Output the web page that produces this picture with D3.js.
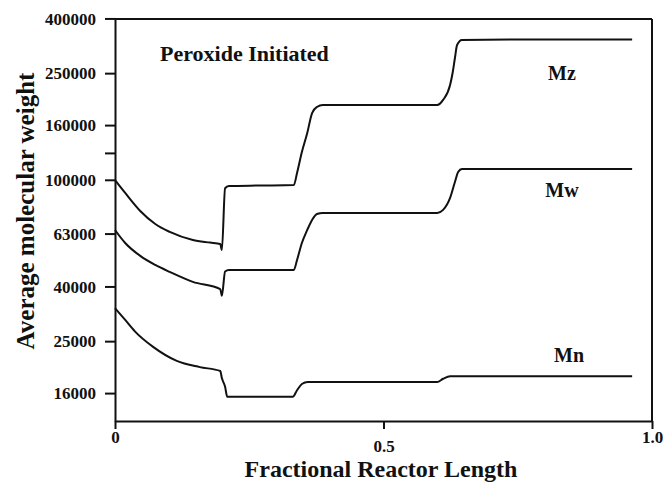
<!DOCTYPE html>
<html>
<head>
<meta charset="utf-8">
<script src="https://cdn.jsdelivr.net/npm/d3@7"></script>
<style>
  body { margin: 0; background: #fff; }
  text { font-family: "Liberation Serif", "Times New Roman", serif; font-weight: bold; fill: #111; }
</style>
</head>
<body>
<svg id="chart" width="663" height="482"></svg>
<script>
// values (fractional length, molecular weight)
var mzX = [0, 0.019, 0.047, 0.075, 0.102, 0.145, 0.177, 0.196, 0.199, 0.205, 0.212, 0.27, 0.333, 0.339, 0.348, 0.358, 0.367, 0.376, 0.387, 0.45, 0.53, 0.6, 0.611, 0.624, 0.629, 0.633, 0.637, 0.646, 0.75, 0.963];
var mzY = [99800, 89300, 76500, 68400, 63900, 59600, 58300, 57600, 54700, 93000, 94800, 95200, 95600, 106000, 126900, 149500, 177500, 186900, 190100, 190100, 190100, 190100, 198600, 225800, 252500, 284800, 318400, 332400, 333800, 333800];

var mwX = [0, 0.019, 0.047, 0.075, 0.102, 0.145, 0.196, 0.199, 0.205, 0.212, 0.27, 0.333, 0.339, 0.348, 0.358, 0.367, 0.376, 0.387, 0.45, 0.53, 0.6, 0.611, 0.624, 0.633, 0.639, 0.646, 0.75, 0.963];
var mwY = [64980, 58100, 52000, 48100, 45300, 41600, 39100, 36900, 45500, 46100, 46100, 46100, 50200, 58100, 65000, 70800, 74500, 75200, 75200, 75200, 75200, 77200, 85600, 98100, 106900, 109700, 109700, 109700];

var mnX = [0, 0.019, 0.037, 0.071, 0.115, 0.158, 0.196, 0.199, 0.205, 0.209, 0.27, 0.331, 0.339, 0.348, 0.359, 0.45, 0.53, 0.6, 0.611, 0.624, 0.75, 0.963];
var mnY = [33200, 30000, 27200, 23800, 21100, 20000, 19350, 18200, 16900, 15500, 15500, 15500, 16400, 17300, 17600, 17600, 17600, 17600, 18100, 18500, 18500, 18500];

var yTicks = [16000, 25000, 40000, 63000, 100000, 126000, 160000, 250000, 400000];
var yLabelled = [16000, 25000, 40000, 63000, 100000, 160000, 250000, 400000];
var xTicks = [0, 0.5, 1];
var xTickLabels = ["0", "0.5", "1.0"];

var series = [
  { name: "Mz", x: mzX, y: mzY },
  { name: "Mw", x: mwX, y: mwY },
  { name: "Mn", x: mnX, y: mnY }
];

(function () {
  var plotL = 115, plotR = 652, plotT = 19, plotB = 421;

  var svg = d3.select("#chart");

  var x = d3.scaleLinear().domain([0, 1]).range([plotL, plotR]);
  var y = d3.scaleLog().domain([Math.pow(10, 4.1), Math.pow(10, 5.6)]).range([plotB, plotT]);

  // frame: top and right edges
  svg.append("line").attr("x1", plotL).attr("x2", plotR).attr("y1", plotT).attr("y2", plotT)
    .attr("stroke", "#111").attr("stroke-width", 2);
  svg.append("line").attr("x1", plotR).attr("x2", plotR).attr("y1", plotT).attr("y2", plotB)
    .attr("stroke", "#111").attr("stroke-width", 2);

  // y axis
  var yAxis = svg.append("g")
    .attr("transform", "translate(" + plotL + ",0)")
    .call(d3.axisLeft(y)
      .tickValues(yTicks)
      .tickSize(10)
      .tickSizeOuter(0)
      .tickPadding(9)
      .tickFormat(function (d) { return yLabelled.indexOf(d) >= 0 ? d : ""; }));
  yAxis.attr("font-family", null).attr("font-size", 17);
  yAxis.select(".domain").attr("stroke", "#111").attr("stroke-width", 2);
  yAxis.selectAll(".tick line").attr("stroke", "#111").attr("stroke-width", 2);
  yAxis.selectAll(".tick text").attr("dy", "0.34em");

  // x axis
  var xAxis = svg.append("g")
    .attr("transform", "translate(0," + plotB + ")")
    .call(d3.axisBottom(x)
      .tickValues(xTicks)
      .tickSize(8)
      .tickSizeOuter(0)
      .tickFormat(function (d, i) { return xTickLabels[i]; }));
  xAxis.attr("font-family", null).attr("font-size", 17);
  xAxis.select(".domain").attr("stroke", "#111").attr("stroke-width", 2);
  xAxis.selectAll(".tick line").attr("stroke", "#111").attr("stroke-width", 2);
  xAxis.selectAll(".tick text")
    .attr("dy", null)
    .attr("y", function (d) { return d === 0.5 ? 31 : 22; });

  // curves
  var line = d3.line()
    .x(function (d) { return x(d[0]); })
    .y(function (d) { return y(d[1]); })
    .curve(d3.curveMonotoneX);

  svg.selectAll("path.curve")
    .data(series)
    .enter().append("path")
      .attr("class", "curve")
      .attr("fill", "none")
      .attr("stroke", "#111")
      .attr("stroke-width", 2)
      .attr("stroke-linejoin", "round")
      .attr("d", function (s) {
        return line(s.x.map(function (v, i) { return [v, s.y[i]]; }));
      });

  // annotations
  svg.append("text").attr("x", 160).attr("y", 61).attr("font-size", 22).text("Peroxide Initiated");
  svg.append("text").attr("x", 562).attr("y", 80).attr("font-size", 20).attr("text-anchor", "middle").text("Mz");
  svg.append("text").attr("x", 562).attr("y", 197).attr("font-size", 20).attr("text-anchor", "middle").text("Mw");
  svg.append("text").attr("x", 569).attr("y", 362).attr("font-size", 20).attr("text-anchor", "middle").text("Mn");

  // axis titles
  svg.append("text")
    .attr("x", 381).attr("y", 477)
    .attr("font-size", 24)
    .attr("text-anchor", "middle")
    .text("Fractional Reactor Length");

  svg.append("text")
    .attr("transform", "translate(34,211) rotate(-90)")
    .attr("font-size", 25)
    .attr("text-anchor", "middle")
    .text("Average molecular weight");
})();
</script>
</body>
</html>
